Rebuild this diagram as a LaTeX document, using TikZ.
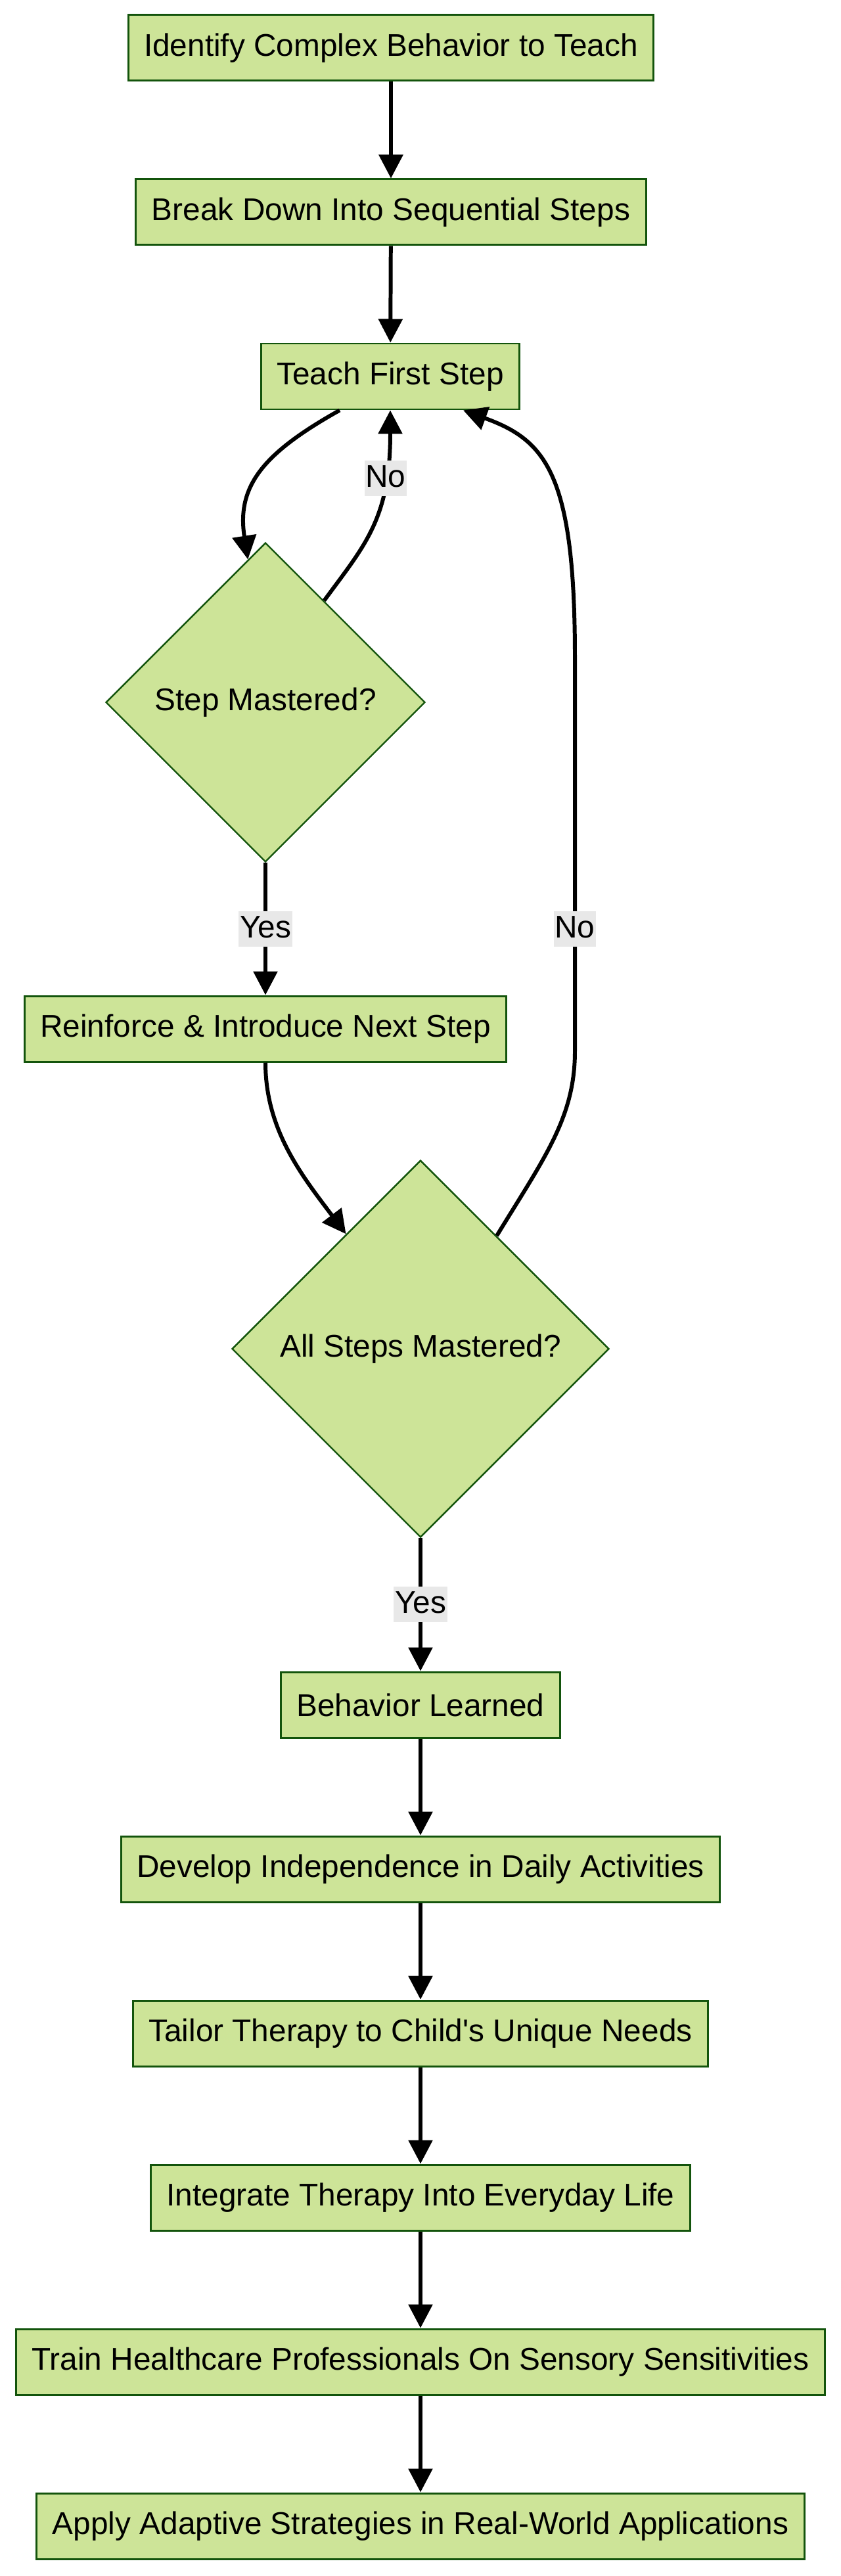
\documentclass[tikz,border=0pt]{standalone}
\usepackage{fontspec}
\setmainfont{Liberation Sans}
\usetikzlibrary{shapes.geometric,arrows.meta}

\definecolor{nodefill}{HTML}{CDE498}
\definecolor{nodeline}{HTML}{13540C}
\definecolor{labelbg}{HTML}{E8E8E8}

\begin{document}
\begin{tikzpicture}[
  stepbox/.style={
    draw=nodeline, fill=nodefill, line width=0.85pt,
    minimum height=1cm, inner xsep=0.24cm, inner ysep=0pt,
    font=\fontsize{13.6pt}{16pt}\selectfont
  },
  checkbox/.style={
    diamond, aspect=1, draw=nodeline, fill=nodefill, line width=0.7pt,
    inner sep=1pt, font=\fontsize{13.6pt}{16pt}\selectfont
  },
  answer/.style={
    fill=labelbg, inner xsep=0.5pt, inner ysep=1pt,
    text height=0.37cm, text depth=0.1cm,
    font=\fontsize{13.6pt}{16pt}\selectfont
  },
  flow/.style={-{Triangle[length=3.6mm,width=3.6mm]}, line width=1.7pt},
]
\useasboundingbox (0,0) rectangle (12.8,-39.21);

%% Upper part of the chain
\node[stepbox] (ident)   at (5.95,-0.73) {Identify Complex Behavior to Teach};
\node[stepbox] (breakdn) at (5.95,-3.23) {Break Down Into Sequential Steps};
\node[stepbox] (teach)   at (5.94,-5.73) {Teach First Step};

%% Checks and the reinforcement step
\node[checkbox, minimum width=4.86cm, minimum height=4.86cm] (stepq) at (4.04,-10.69) {Step Mastered?};
\node[stepbox] (reinf) at (4.04,-15.66) {Reinforce \& Introduce Next Step};
\node[checkbox, minimum width=5.74cm, minimum height=5.74cm] (allq) at (6.40,-20.53) {All Steps Mastered?};

%% Lower part of the chain
\node[stepbox] (learned) at (6.40,-25.95) {Behavior Learned};
\node[stepbox] (indep)   at (6.40,-28.45) {Develop Independence in Daily Activities};
\node[stepbox] (tailor)  at (6.40,-30.95) {Tailor Therapy to Child\textquotesingle s Unique Needs};
\node[stepbox] (integ)   at (6.40,-33.45) {Integrate Therapy Into Everyday Life};
\node[stepbox] (train)   at (6.40,-35.95) {Train Healthcare Professionals On Sensory Sensitivities};
\node[stepbox] (apply)   at (6.40,-38.45) {Apply Adaptive Strategies in Real-World Applications};

%% Straight connections
\draw[flow] (ident) -- (breakdn);
\draw[flow] (breakdn) -- (teach);

%% Loop round the first check
\draw[flow] ([xshift=-0.77cm]teach.south) .. controls (4.0,-6.9) and (3.6,-7.4) .. (stepq.97);
\draw[flow] (stepq.60) .. controls (5.55,-8.3) and (5.94,-7.9) .. node[answer, pos=0.75] {No} (teach.south);
\draw[flow] (stepq.south) -- node[answer] {Yes} (reinf.north);

%% Second check and its way back
\draw[flow] (reinf.south) .. controls (4.04,-17.2) and (4.6,-17.9) .. (allq.123);
\draw[flow] (allq.56) .. controls (8.3,-17.6) and (8.75,-17.0) .. (8.75,-16.0)
  -- node[answer, pos=0.31] {No} (8.75,-10.0)
  .. controls (8.75,-7.2) and (8.3,-6.7) .. ([xshift=1.11cm]teach.south);
\draw[flow] (allq.south) -- node[answer] {Yes} (learned.north);

%% Remaining chain
\draw[flow] (learned) -- (indep);
\draw[flow] (indep) -- (tailor);
\draw[flow] (tailor) -- (integ);
\draw[flow] (integ) -- (train);
\draw[flow] (train) -- (apply);

\end{tikzpicture}
\end{document}
